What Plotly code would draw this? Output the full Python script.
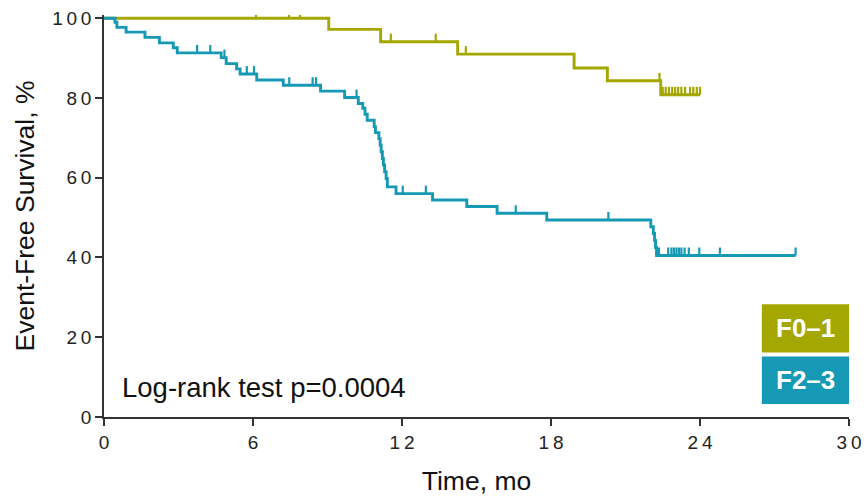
import numpy as np
import plotly.graph_objects as go

# Kaplan-Meier step data (time in months, event-free survival in %)
f01_times = [0, 9.05, 11.14, 14.24, 18.93, 20.27, 22.42]
f01_surv = [100, 97.2, 94.1, 91.0, 87.5, 84.3, 80.8]
f01_end = 24.0
f01_censor = [6.12, 7.45, 7.89, 11.55, 13.36, 14.57, 22.37, 22.5, 22.62, 22.75,
              22.88, 23.0, 23.12, 23.25, 23.4, 23.6, 23.73, 23.87, 24.0]

f23_times = [0, 0.44, 0.52, 0.89, 1.65, 2.23, 2.79, 2.95, 4.72, 4.92, 5.34, 5.48,
             6.15, 7.22, 8.72, 9.69, 10.24, 10.42, 10.51, 10.60, 10.88, 10.93,
             11.07, 11.12, 11.16, 11.21, 11.25, 11.30, 11.36, 11.41, 11.76, 13.23,
             14.61, 15.83, 17.83, 22.02, 22.12, 22.17, 22.21, 22.25]
f23_surv = [100, 99.0, 97.7, 96.5, 95.2, 93.8, 92.6, 91.3, 90.1, 88.6, 87.3, 86.0,
            84.5, 83.2, 81.7, 80.1, 78.6, 77.4, 75.9, 74.4, 72.8, 71.3,
            69.8, 68.2, 66.5, 64.8, 63.2, 61.5, 59.8, 57.7, 56.0, 54.4,
            52.8, 51.1, 49.4, 47.7, 46.0, 44.3, 42.5, 40.5]
f23_end = 27.85
f23_censor = [3.75, 4.28, 4.85, 5.75, 6.04, 7.46, 8.40, 8.54, 10.17, 12.03, 12.96,
              16.58, 20.31, 22.35, 22.72, 22.85, 22.95, 23.05, 23.15, 23.25, 23.38,
              23.55, 23.97, 24.8, 27.85]

x_ticks = [0, 6, 12, 18, 24, 30]
y_ticks = [0, 20, 40, 60, 80, 100]

FONT = "Liberation Sans, Arial, sans-serif"


def spaced(v):
    # tick labels are set with wide tracking between digits
    return "\u2009".join(str(v))


groups = [
    ("F0\u20131", f01_times, f01_surv, f01_end, f01_censor, "#A4A700"),
    ("F2\u20133", f23_times, f23_surv, f23_end, f23_censor, "#1699B4"),
]

TICK_H = 2.0  # censor tick height in % units

fig = go.Figure()
for name, t, s, end, cens, color in groups:
    t = np.asarray(t, float)
    s = np.asarray(s, float)
    xs = np.append(t, end)
    ys = np.append(s, s[-1])
    fig.add_trace(go.Scatter(x=xs, y=ys, mode="lines", line_shape="hv",
                             line=dict(color=color, width=2.9), name=name,
                             showlegend=False, hoverinfo="skip"))
    # censor ticks sit on the survival level at each censor time
    c = np.asarray(cens, float)
    lvl = s[np.searchsorted(t, c, side="right") - 1]
    cx, cy = [], []
    for xi, yi in zip(c, lvl):
        cx += [xi, xi, None]
        cy += [yi, yi + TICK_H, None]
    fig.add_trace(go.Scatter(x=cx, y=cy, mode="lines",
                             line=dict(color=color, width=2.2), showlegend=False,
                             hoverinfo="skip"))

# legend boxes
box_specs = [("F0\u20131", "#A4A700", 0.2807, 0.1604),
             ("F2\u20133", "#1699B4", 0.1504, 0.0326)]
for label, color, y1, y0 in box_specs:
    fig.add_shape(type="rect", xref="paper", yref="paper", x0=0.883, x1=1.0,
                  y0=y0, y1=y1, fillcolor=color, line=dict(width=0), layer="above")
    fig.add_annotation(xref="paper", yref="paper", x=(0.883 + 1.0) / 2,
                       y=(y0 + y1) / 2, text=f"<b>{label}</b>", showarrow=False,
                       font=dict(size=26, color="white", family=FONT),
                       xanchor="center", yanchor="middle")

fig.add_annotation(x=0.64, y=7.3, xref="x", yref="y", text="Log-rank test p=0.0004",
                   showarrow=False, xanchor="left", yanchor="middle",
                   font=dict(size=27.5, color="#111", family=FONT))

axis_common = dict(showline=True, linecolor="#333", linewidth=1.5, ticks="outside",
                   ticklen=7, tickwidth=1.5, tickcolor="#333", showgrid=False,
                   zeroline=False, automargin=False,
                   tickfont=dict(size=19, color="#222", family=FONT))

fig.update_layout(
    width=866, height=498,
    margin=dict(l=104, r=17, t=15, b=81),
    paper_bgcolor="white", plot_bgcolor="white",
    xaxis=dict(range=[0, 30], tickvals=x_ticks, ticktext=[spaced(v) for v in x_ticks],
               title=dict(text="Time, mo", standoff=20,
                          font=dict(size=26.5, color="#111", family=FONT)),
               **axis_common),
    yaxis=dict(range=[0, 100.8], tickvals=y_ticks, ticktext=[spaced(v) for v in y_ticks],
               title=dict(text="Event-Free Survival, %", standoff=10,
                          font=dict(size=26.5, color="#111", family=FONT)),
               **axis_common),
)

fig.write_html("out.html")
